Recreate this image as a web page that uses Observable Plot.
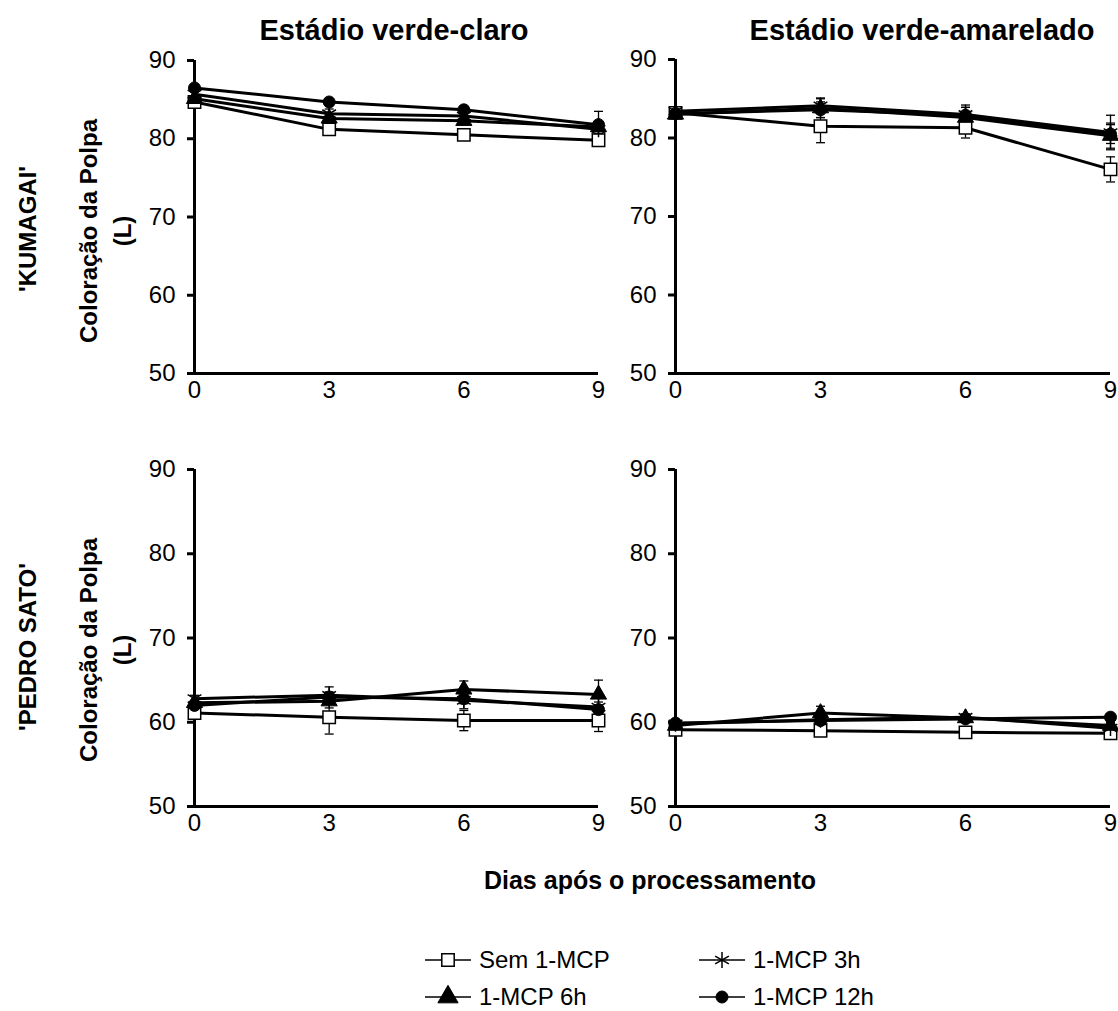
<!DOCTYPE html>
<html><head><meta charset="utf-8">
<script src="https://cdn.jsdelivr.net/npm/d3@7"></script>
<script src="https://cdn.jsdelivr.net/npm/@observablehq/plot@0.6"></script>
<style>
html,body{margin:0;padding:0;background:#fff;overflow:hidden}
#wrap{position:relative;width:1118px;height:1011px;font-family:'Liberation Sans',Arial,sans-serif;color:#000;overflow:hidden}
.abs{position:absolute;white-space:nowrap;line-height:1}
.panel{position:absolute;overflow:visible}
.panel [aria-label="y-axis tick"] path,.panel [aria-label="y-axis"] line{stroke-width:3px}
.rot{transform:translate(-50%,-50%) rotate(-90deg);text-align:center}
.ctr{transform:translate(-50%,-50%)}
</style></head><body><div id="wrap"></div>
<script>
// ---- data ----
const days = [0, 3, 6, 9];
const series = ["Sem 1-MCP", "1-MCP 3h", "1-MCP 6h", "1-MCP 12h"];
const yTicks = [50, 60, 70, 80, 90];
const colTitles = ["Estádio verde-claro", "Estádio verde-amarelado"];
const rowTitles = ["'KUMAGAI'", "'PEDRO SATO'"];
const yTitle = ["Coloração da Polpa", "(L)"];
const xTitle = "Dias após o processamento";

// means per series (order: Sem, 3h, 6h, 12h)
const kumClaroMeans = [
  [84.7, 81.2, 80.5, 79.8],
  [85.7, 83.2, 82.9, 81.2],
  [85.1, 82.6, 82.3, 81.5],
  [86.5, 84.7, 83.7, 81.8]
];
const kumClaroErr = [
  [0.4, 0.4, 0.5, 0.4],
  [0.4, 0.6, 0.6, 0.5],
  [0.4, 0.5, 0.5, 0.5],
  [0.4, 0.4, 0.4, 1.7]
];
const kumAmarMeans = [
  [83.2, 81.5, 81.3, 76.0],
  [83.4, 84.1, 83.0, 80.7],
  [83.0, 83.8, 82.6, 80.3],
  [83.1, 83.6, 82.9, 80.5]
];
const kumAmarErr = [
  [0.4, 2.1, 1.3, 1.6],
  [0.4, 1.0, 1.2, 2.2],
  [0.4, 1.2, 1.3, 1.6],
  [0.4, 1.0, 1.0, 1.2]
];
const pedClaroMeans = [
  [61.1, 60.6, 60.2, 60.2],
  [62.8, 63.2, 62.6, 61.8],
  [62.3, 62.5, 63.9, 63.3],
  [62.0, 63.0, 62.8, 61.5]
];
const pedClaroErr = [
  [0.3, 2.0, 1.2, 1.3],
  [0.4, 1.0, 1.0, 0.6],
  [0.3, 0.8, 1.0, 1.7],
  [0.3, 0.6, 0.6, 0.5]
];
const pedAmarMeans = [
  [59.1, 59.0, 58.8, 58.7],
  [59.8, 60.3, 60.6, 59.3],
  [59.6, 61.1, 60.5, 59.6],
  [59.9, 60.2, 60.4, 60.6]
];
const pedAmarErr = [
  [0.5, 0.6, 0.3, 0.3],
  [0.3, 0.5, 0.4, 0.4],
  [0.3, 0.8, 0.4, 0.4],
  [0.3, 0.4, 0.4, 0.4]
];

// ---- styles ----
const symStyle = [
  {symbol: "square", fill: "white", stroke: "black", strokeWidth: 1.5, r: 7},
  {symbol: "asterisk", fill: "none", stroke: "black", strokeWidth: 1.5, r: 7.5},
  {symbol: "triangle", fill: "black", stroke: "black", strokeWidth: 1, r: 6},
  {symbol: "circle", fill: "black", stroke: "black", strokeWidth: 1, r: 6}
];
const FONT = "'Liberation Sans', Arial, sans-serif";
const wrap = document.getElementById("wrap");

function addText(txt, x, y, cls, size, weight) {
  const d = document.createElement("div");
  d.className = "abs " + cls;
  d.style.left = x + "px"; d.style.top = y + "px";
  d.style.fontSize = size + "px"; d.style.fontWeight = weight;
  d.innerHTML = txt;
  wrap.appendChild(d);
  return d;
}

function panel(means, errs, g) {
  const rows = [];
  series.forEach((s, i) => days.forEach((d, j) => rows.push({series: s, si: i, day: d, v: means[i][j], e: errs[i][j]})));
  const mL = 70, mR = 20, mT = 20, mB = 45;
  const w = g.x1 - g.x0 + mL + mR, h = g.yb - g.yt + mT + mB;
  const capW = 4.5 / ((g.x1 - g.x0) / 9);
  const marks = [
    Plot.ruleX(rows, {x: "day", y1: d => d.v - d.e, y2: d => d.v + d.e, stroke: "black", strokeWidth: 1.3}),
    Plot.link(rows, {x1: d => d.day - capW, x2: d => d.day + capW, y1: d => d.v + d.e, y2: d => d.v + d.e, stroke: "black", strokeWidth: 1.3}),
    Plot.link(rows, {x1: d => d.day - capW, x2: d => d.day + capW, y1: d => d.v - d.e, y2: d => d.v - d.e, stroke: "black", strokeWidth: 1.3}),
    Plot.ruleX([0], {stroke: "black", strokeWidth: 3}),
    Plot.ruleY([50], {stroke: "black", strokeWidth: 3})
  ];
  series.forEach((s, i) => {
    const sub = rows.filter(d => d.si === i);
    marks.push(Plot.line(sub, {x: "day", y: "v", stroke: "black", strokeWidth: 3}));
    marks.push(Plot.dot(sub, {x: "day", y: "v", ...symStyle[i]}));
  });
  const p = Plot.plot({
    width: w, height: h,
    marginLeft: mL, marginRight: mR, marginTop: mT, marginBottom: mB,
    style: {fontFamily: FONT, fontSize: "24px", color: "black", background: "transparent", overflow: "visible"},
    x: {domain: [0, 9], ticks: days, tickFormat: d => String(d), tickSize: 0, tickPadding: 7, label: null},
    y: {domain: [50, 90], ticks: yTicks, tickSize: 7, tickPadding: 12, label: null},
    marks
  });
  p.classList.add("panel");
  p.style.left = (g.x0 - mL) + "px";
  p.style.top = (g.yt - mT) + "px";
  wrap.appendChild(p);
}

panel(kumClaroMeans, kumClaroErr, {x0: 194, x1: 598, yt: 60, yb: 373});
panel(kumAmarMeans, kumAmarErr, {x0: 675, x1: 1110, yt: 59, yb: 373});
panel(pedClaroMeans, pedClaroErr, {x0: 194, x1: 598, yt: 469, yb: 806});
panel(pedAmarMeans, pedAmarErr, {x0: 675, x1: 1110, yt: 469, yb: 806});

// titles
addText(colTitles[0], 394, 30, "ctr", 29, "bold");
addText(colTitles[1], 922, 30, "ctr", 29, "bold");
addText(rowTitles[0], 28, 229, "rot", 24, "bold");
addText(rowTitles[1], 28, 647, "rot", 24, "bold");
[231, 650].forEach(cy => {
  addText(yTitle[0] + "<br>" + yTitle[1], 106, cy, "rot", 24, "bold").style.lineHeight = "34px";
});
addText(xTitle, 650, 880, "ctr", 25, "bold");

// legend
const legPos = [[425, 960], [699, 960], [425, 997], [699, 997]];
series.forEach((s, i) => {
  const [lx, ly] = legPos[i];
  const st = symStyle[i];
  const svg = d3.create("svg").attr("width", 48).attr("height", 24)
    .style("position", "absolute").style("left", lx + "px").style("top", (ly - 12) + "px");
  svg.append("line").attr("x1", 0).attr("x2", 46).attr("y1", 12).attr("y2", 12).attr("stroke", "black").attr("stroke-width", 1.5);
  const typ = {square: d3.symbolSquare, asterisk: d3.symbolAsterisk, triangle: d3.symbolTriangle, circle: d3.symbolCircle}[st.symbol];
  const r = st.symbol === "triangle" ? 7.5 : st.r;
  svg.append("path").attr("d", d3.symbol(typ, Math.PI * r * r)()).attr("transform", "translate(23,12)")
    .attr("fill", st.fill).attr("stroke", "black").attr("stroke-width", st.strokeWidth);
  wrap.appendChild(svg.node());
  addText(s, lx + 54, ly - 12, "", 24, "normal");
});
</script></body></html>
